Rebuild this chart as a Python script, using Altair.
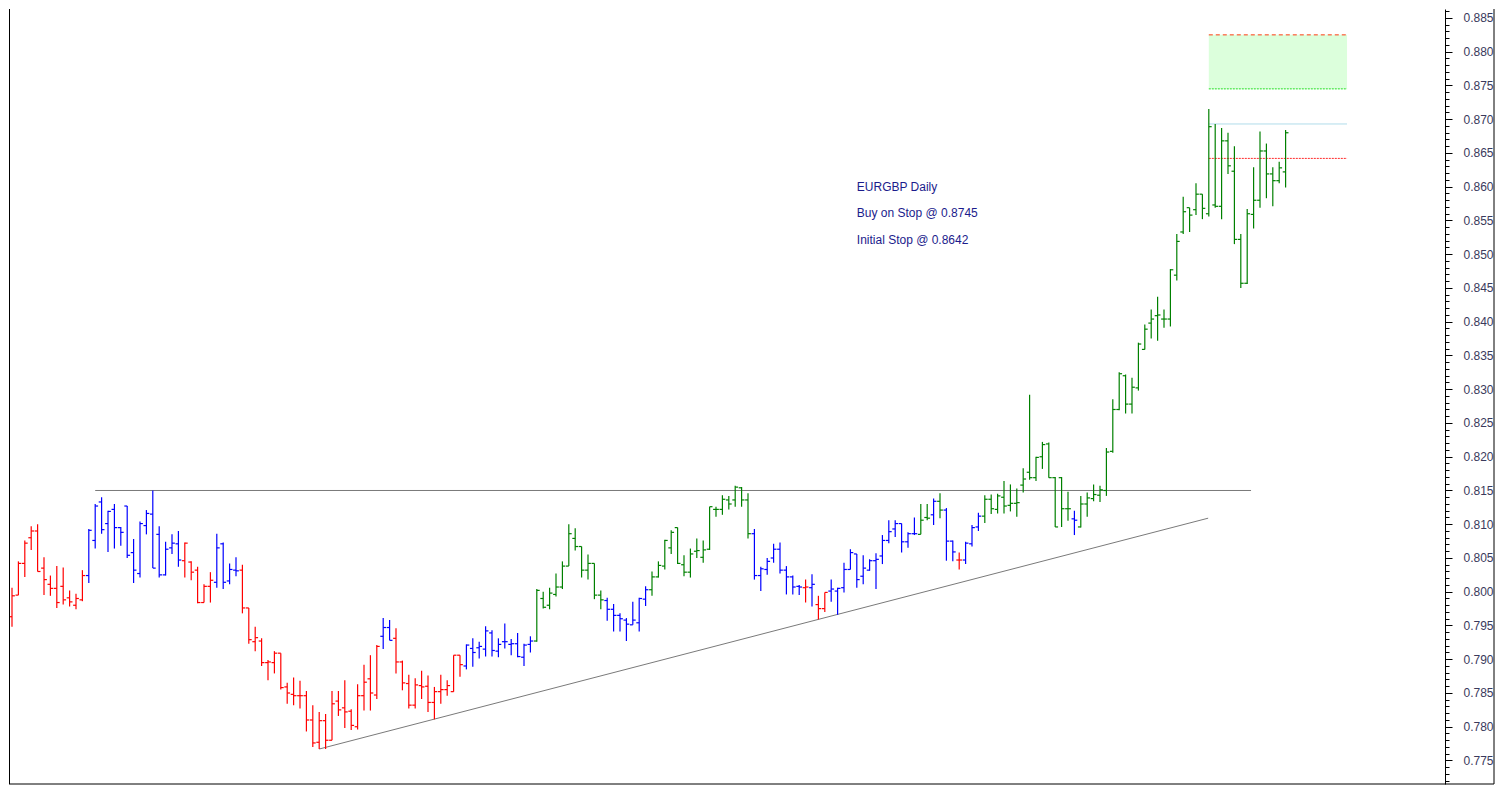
import altair as alt
import pandas as pd

OPEN = [0.7963, 0.7995, 0.8042, 0.8080, 0.8090, 0.8035, 0.8011, 0.8005, 0.8008, 0.7991,
        0.7980, 0.7988, 0.8024, 0.8076, 0.8133, 0.8101, 0.8122, 0.8095, 0.8127, 0.8058,
        0.8027, 0.8098, 0.8115, 0.8085, 0.8025, 0.8065, 0.8071, 0.8046, 0.8044, 0.8032,
        0.7984, 0.8008, 0.8014, 0.8071, 0.8016, 0.8032, 0.8032, 0.7976, 0.7926, 0.7927,
        0.7895, 0.7895, 0.7909, 0.7859, 0.7848, 0.7846, 0.7846, 0.7810, 0.7777, 0.7809,
        0.7780, 0.7838, 0.7828, 0.7823, 0.7800, 0.7846, 0.7871, 0.7847, 0.7934, 0.7947,
        0.7931, 0.7896, 0.7864, 0.7832, 0.7861, 0.7860, 0.7836, 0.7852, 0.7855, 0.7852,
        0.7906, 0.7890, 0.7916, 0.7917, 0.7915, 0.7939, 0.7912, 0.7926, 0.7922, 0.7923,
        0.7903, 0.7922, 0.7927, 0.7990, 0.7980, 0.7996, 0.8007, 0.8038, 0.8079, 0.8067,
        0.8032, 0.8042, 0.7995, 0.7987, 0.7974, 0.7965, 0.7958, 0.7951, 0.7954, 0.7989,
        0.8003, 0.8022, 0.8038, 0.8065, 0.8095, 0.8040, 0.8029, 0.8060, 0.8051, 0.8063,
        0.8122, 0.8122, 0.8136, 0.8136, 0.8154, 0.8136, 0.8086, 0.8024, 0.8033, 0.8050,
        0.8063, 0.8032, 0.8022, 0.8008, 0.8006, 0.8006, 0.7981, 0.7975, 0.8001, 0.8001,
        0.8006, 0.8033, 0.8056, 0.8023, 0.8032, 0.8046, 0.8053, 0.8076, 0.8093, 0.8101,
        0.8074, 0.8086, 0.8085, 0.8110, 0.8114, 0.8134, 0.8121, 0.8075, 0.8047, 0.8047,
        0.8071, 0.8096, 0.8112, 0.8137, 0.8122, 0.8140, 0.8128, 0.8131, 0.8158, 0.8177,
        0.8169, 0.8200, 0.8219, 0.8169, 0.8169, 0.8123, 0.8108, 0.8096, 0.8130, 0.8138,
        0.8143, 0.8150, 0.8208, 0.8270, 0.8320, 0.8278, 0.8302, 0.8359, 0.8398, 0.8409,
        0.8404, 0.8404, 0.8469, 0.8533, 0.8569, 0.8566, 0.8589, 0.8560, 0.8573, 0.8571,
        0.8668, 0.8623, 0.8522, 0.8457, 0.8559, 0.8580, 0.8653, 0.8619, 0.8609, 0.8622]

HIGH = [0.8006, 0.8045, 0.8076, 0.8097, 0.8100, 0.8051, 0.8024, 0.8038, 0.8036, 0.8002,
        0.7997, 0.8032, 0.8093, 0.8130, 0.8140, 0.8120, 0.8130, 0.8096, 0.8127, 0.8078,
        0.8104, 0.8121, 0.8150, 0.8097, 0.8074, 0.8085, 0.8090, 0.8073, 0.8045, 0.8037,
        0.8011, 0.8029, 0.8086, 0.8073, 0.8042, 0.8051, 0.8040, 0.7976, 0.7948, 0.7931,
        0.7899, 0.7912, 0.7909, 0.7865, 0.7873, 0.7868, 0.7853, 0.7832, 0.7822, 0.7819,
        0.7853, 0.7853, 0.7869, 0.7826, 0.7863, 0.7892, 0.7906, 0.7921, 0.7961, 0.7958,
        0.7946, 0.7898, 0.7877, 0.7872, 0.7883, 0.7876, 0.7859, 0.7877, 0.7869, 0.7906,
        0.7906, 0.7922, 0.7931, 0.7926, 0.7949, 0.7943, 0.7931, 0.7953, 0.7930, 0.7939,
        0.7923, 0.7934, 0.8004, 0.8000, 0.8006, 0.8027, 0.8045, 0.8100, 0.8094, 0.8067,
        0.8055, 0.8042, 0.8002, 0.7991, 0.7982, 0.7968, 0.7961, 0.7985, 0.7991, 0.8008,
        0.8030, 0.8045, 0.8077, 0.8091, 0.8095, 0.8054, 0.8064, 0.8079, 0.8076, 0.8126,
        0.8126, 0.8143, 0.8142, 0.8157, 0.8155, 0.8146, 0.8093, 0.8037, 0.8050, 0.8071,
        0.8073, 0.8038, 0.8024, 0.8010, 0.8018, 0.8026, 0.7994, 0.7999, 0.8018, 0.8006,
        0.8043, 0.8063, 0.8056, 0.8054, 0.8048, 0.8057, 0.8084, 0.8106, 0.8106, 0.8101,
        0.8088, 0.8110, 0.8130, 0.8130, 0.8138, 0.8146, 0.8124, 0.8076, 0.8058, 0.8074,
        0.8099, 0.8117, 0.8143, 0.8144, 0.8145, 0.8164, 0.8159, 0.8153, 0.8183, 0.8292,
        0.8200, 0.8222, 0.8221, 0.8170, 0.8170, 0.8148, 0.8120, 0.8142, 0.8147, 0.8159,
        0.8157, 0.8213, 0.8285, 0.8325, 0.8322, 0.8317, 0.8369, 0.8396, 0.8418, 0.8437,
        0.8418, 0.8478, 0.8530, 0.8585, 0.8569, 0.8605, 0.8589, 0.8715, 0.8693, 0.8687,
        0.8680, 0.8660, 0.8530, 0.8567, 0.8629, 0.8682, 0.8664, 0.8629, 0.8637, 0.8684]

LOW = [0.7948, 0.7995, 0.8022, 0.8062, 0.8030, 0.7995, 0.7994, 0.7976, 0.7981, 0.7978,
       0.7974, 0.7986, 0.8013, 0.8064, 0.8086, 0.8059, 0.8064, 0.8068, 0.8050, 0.8013,
       0.8021, 0.8085, 0.8035, 0.8021, 0.8024, 0.8056, 0.8037, 0.8021, 0.8017, 0.7983,
       0.7984, 0.7984, 0.8006, 0.8004, 0.8011, 0.8023, 0.7968, 0.7923, 0.7912, 0.7890,
       0.7869, 0.7879, 0.7855, 0.7834, 0.7832, 0.7827, 0.7793, 0.7770, 0.7767, 0.7767,
       0.7780, 0.7816, 0.7798, 0.7795, 0.7796, 0.7824, 0.7824, 0.7841, 0.7915, 0.7928,
       0.7879, 0.7854, 0.7827, 0.7827, 0.7841, 0.7822, 0.7811, 0.7834, 0.7846, 0.7852,
       0.7874, 0.7885, 0.7889, 0.7901, 0.7904, 0.7904, 0.7903, 0.7916, 0.7906, 0.7903,
       0.7890, 0.7910, 0.7926, 0.7975, 0.7974, 0.7993, 0.8004, 0.8038, 0.8061, 0.8021,
       0.8018, 0.7989, 0.7974, 0.7957, 0.7941, 0.7941, 0.7927, 0.7951, 0.7941, 0.7979,
       0.7994, 0.8021, 0.8033, 0.8056, 0.8041, 0.8023, 0.8021, 0.8050, 0.8043, 0.8062,
       0.8111, 0.8114, 0.8122, 0.8126, 0.8126, 0.8079, 0.8018, 0.8001, 0.8025, 0.8043,
       0.8027, 0.7996, 0.7996, 0.7995, 0.7984, 0.7978, 0.7959, 0.7970, 0.7985, 0.7966,
       0.7999, 0.8033, 0.8006, 0.8011, 0.8031, 0.8004, 0.8041, 0.8072, 0.8081, 0.8058,
       0.8065, 0.8084, 0.8085, 0.8106, 0.8099, 0.8109, 0.8046, 0.8045, 0.8033, 0.8041,
       0.8067, 0.8090, 0.8102, 0.8115, 0.8116, 0.8116, 0.8119, 0.8111, 0.8147, 0.8166,
       0.8164, 0.8182, 0.8169, 0.8096, 0.8096, 0.8105, 0.8084, 0.8095, 0.8111, 0.8134,
       0.8133, 0.8142, 0.8206, 0.8269, 0.8264, 0.8264, 0.8298, 0.8359, 0.8375, 0.8372,
       0.8391, 0.8393, 0.8461, 0.8530, 0.8533, 0.8558, 0.8552, 0.8556, 0.8569, 0.8552,
       0.8619, 0.8515, 0.8450, 0.8456, 0.8538, 0.8569, 0.8583, 0.8571, 0.8605, 0.8599]

CLOSE = [0.7994, 0.8042, 0.8072, 0.8090, 0.8030, 0.8018, 0.8005, 0.7984, 0.7988, 0.7985,
         0.7990, 0.8024, 0.8091, 0.8127, 0.8092, 0.8119, 0.8095, 0.8088, 0.8054, 0.8032,
         0.8101, 0.8116, 0.8035, 0.8025, 0.8063, 0.8072, 0.8047, 0.8072, 0.8029, 0.7984,
         0.8008, 0.8017, 0.8065, 0.8014, 0.8033, 0.8031, 0.7976, 0.7929, 0.7932, 0.7895,
         0.7896, 0.7909, 0.7858, 0.7850, 0.7846, 0.7846, 0.7810, 0.7776, 0.7809, 0.7780,
         0.7834, 0.7825, 0.7822, 0.7802, 0.7846, 0.7866, 0.7850, 0.7919, 0.7947, 0.7928,
         0.7896, 0.7865, 0.7832, 0.7862, 0.7859, 0.7836, 0.7852, 0.7855, 0.7861, 0.7906,
         0.7892, 0.7921, 0.7910, 0.7919, 0.7942, 0.7913, 0.7922, 0.7926, 0.7923, 0.7904,
         0.7921, 0.7927, 0.8002, 0.7977, 0.7998, 0.8007, 0.8038, 0.8086, 0.8067, 0.8032,
         0.8042, 0.7995, 0.7988, 0.7974, 0.7965, 0.7960, 0.7952, 0.7958, 0.7990, 0.8003,
         0.8022, 0.8039, 0.8076, 0.8088, 0.8042, 0.8029, 0.8056, 0.8061, 0.8062, 0.8126,
         0.8122, 0.8137, 0.8130, 0.8155, 0.8136, 0.8086, 0.8024, 0.8034, 0.8045, 0.8063,
         0.8032, 0.8022, 0.8007, 0.8007, 0.8007, 0.8011, 0.7975, 0.7999, 0.8004, 0.8005,
         0.8033, 0.8058, 0.8018, 0.8035, 0.8046, 0.8048, 0.8076, 0.8089, 0.8101, 0.8074,
         0.8086, 0.8086, 0.8106, 0.8109, 0.8134, 0.8121, 0.8075, 0.8059, 0.8047, 0.8072,
         0.8095, 0.8112, 0.8137, 0.8123, 0.8142, 0.8127, 0.8131, 0.8132, 0.8167, 0.8169,
         0.8199, 0.8218, 0.8169, 0.8096, 0.8123, 0.8123, 0.8106, 0.8130, 0.8139, 0.8144,
         0.8151, 0.8207, 0.8270, 0.8323, 0.8278, 0.8303, 0.8367, 0.8389, 0.8404, 0.8410,
         0.8404, 0.8477, 0.8519, 0.8563, 0.8558, 0.8589, 0.8568, 0.8689, 0.8571, 0.8668,
         0.8631, 0.8522, 0.8457, 0.8560, 0.8580, 0.8653, 0.8619, 0.8609, 0.8628, 0.8680]

# colour state of each bar, as runs (r = red, b = blue, g = green)
COLOR_RUNS = [("r", 12), ("b", 15), ("r", 5), ("b", 4), ("r", 22), ("b", 2), ("r", 11),
              ("b", 11), ("g", 11), ("b", 7), ("g", 16), ("b", 8), ("r", 1), ("b", 1),
              ("r", 2), ("b", 14), ("g", 2), ("b", 1), ("g", 1), ("b", 2), ("r", 1),
              ("b", 3), ("g", 14), ("b", 1), ("g", 33)]

MAJOR_TICKS = [0.775, 0.780, 0.785, 0.790, 0.795, 0.800, 0.805, 0.810, 0.815, 0.820,
               0.825, 0.830, 0.835, 0.840, 0.845, 0.850, 0.855, 0.860, 0.865, 0.870,
               0.875, 0.880, 0.885]

RESISTANCE = {"x": [14.0], "x2": [194.6], "y": [0.815]}
TRENDLINE = {"x": [49.0], "x2": [187.9], "y": [0.7767], "y2": [0.8109]}
TARGET_ZONE = {"x": [188.0], "x2": [209.6], "y": [0.8745], "y2": [0.8825]}
LEVEL_PRICE = [0.8825, 0.8745, 0.8693, 0.8642]
LEVEL_COLOR = ["#ff3b10", "#1fe01f", "#a8d8e8", "#ff2a2a"]
LEVEL_DASH = [[4, 3], [2, 1], [1, 0], [2, 1]]
NOTES = ["EURGBP Daily", "Buy on Stop @ 0.8745", "Initial Stop @ 0.8642"]
NOTE_X = [133.0, 133.0, 133.0]
NOTE_Y = [0.8600, 0.8561, 0.8521]

colors = []
for c, n in COLOR_RUNS:
    colors += [c] * n

bars = pd.DataFrame({
    "i": list(range(1, len(OPEN) + 1)),
    "o": OPEN, "h": HIGH, "l": LOW, "c": CLOSE, "g": colors,
})

minor_ticks = [round(0.772 + k * 0.001, 3) for k in range(115)]
is_major = "abs(round(datum.value * 1000) % 5) == 0"

XS = alt.Scale(domain=[0.53125, 224.906], nice=False, zero=False)
YS = alt.Scale(domain=[0.771518, 0.886333], nice=False, zero=False)
CS = alt.Scale(domain=["r", "b", "g"], range=["#ff0000", "#0000ff", "#008000"])

YAXIS = alt.Axis(
    orient="right", values=minor_ticks, title=None, grid=False,
    labelExpr=f"{is_major} ? format(datum.value, '.3f') : ''",
    tickSize={"condition": {"test": is_major, "value": 7}, "value": 4},
    labelFontSize={"condition": {"test": is_major, "value": 12}, "value": 1},
    tickColor="#000000", domainColor="#000000", domainWidth=1,
    labelColor="#3a3a5c", labelFont="Liberation Sans",
    labelPadding=11, labelOverlap=False, labelFlush=False,
)


def X(f):
    return alt.X(f, scale=XS, axis=None)


def Y(f):
    return alt.Y(f, scale=YS, axis=YAXIS)


color = alt.Color("g:N", scale=CS, legend=None)

base = alt.Chart(bars)
wick = base.mark_rule(strokeWidth=1.2).encode(x=X("i:Q"), y=Y("l:Q"), y2="h:Q", color=color)
open_t = base.transform_calculate(i0="datum.i - 0.45").mark_rule(strokeWidth=1.2).encode(
    x=X("i0:Q"), x2="i:Q", y=Y("o:Q"), color=color)
close_t = base.transform_calculate(i1="datum.i + 0.45").mark_rule(strokeWidth=1.2).encode(
    x=X("i:Q"), x2="i1:Q", y=Y("c:Q"), color=color)

zone = alt.Chart(pd.DataFrame(TARGET_ZONE)).mark_rect(color="#dcffdc").encode(
    x=X("x:Q"), x2="x2:Q", y=Y("y:Q"), y2="y2:Q")

levels_df = pd.DataFrame({"p": LEVEL_PRICE, "col": LEVEL_COLOR,
                          "x": [188.0] * 4, "x2": [209.6] * 4})
level_layers = []
for k in range(len(LEVEL_PRICE)):
    level_layers.append(
        alt.Chart(levels_df.iloc[[k]]).mark_rule(
            color=LEVEL_COLOR[k], strokeWidth=1, strokeDash=LEVEL_DASH[k]
        ).encode(x=X("x:Q"), x2="x2:Q", y=Y("p:Q"))
    )

resist = alt.Chart(pd.DataFrame(RESISTANCE)).mark_rule(color="#7a7a7a", strokeWidth=1).encode(
    x=X("x:Q"), x2="x2:Q", y=Y("y:Q"))
trend = alt.Chart(pd.DataFrame(TRENDLINE)).mark_rule(color="#7a7a7a", strokeWidth=1).encode(
    x=X("x:Q"), x2="x2:Q", y=Y("y:Q"), y2="y2:Q")

notes = alt.Chart(pd.DataFrame({"t": NOTES, "x": NOTE_X, "y": NOTE_Y})).mark_text(
    align="left", baseline="middle", font="Liberation Sans", fontSize=12, color="#1c1c8c"
).encode(x=X("x:Q"), y=Y("y:Q"), text="t:N")

one = pd.DataFrame({"a": [0]})
frame_left = alt.Chart(one).mark_rule(color="#000000", strokeWidth=1).encode(
    x=alt.value(0.5), y=alt.value(0), y2=alt.value(775))
frame_bottom = alt.Chart(one).mark_rule(color="#000000", strokeWidth=1).encode(
    x=alt.value(0), x2=alt.value(1485), y=alt.value(775))
frame_right = alt.Chart(one).mark_rule(color="#000000", strokeWidth=1).encode(
    x=alt.value(1485), y=alt.value(0), y2=alt.value(775))

chart = alt.layer(
    zone, *level_layers, resist, trend, wick, open_t, close_t, notes,
    frame_left, frame_bottom, frame_right,
).properties(
    width=1436, height=775, padding=0, background="white"
).configure_view(stroke=None)

chart.save("out.html", embed_options={"renderer": "svg", "actions": False})
